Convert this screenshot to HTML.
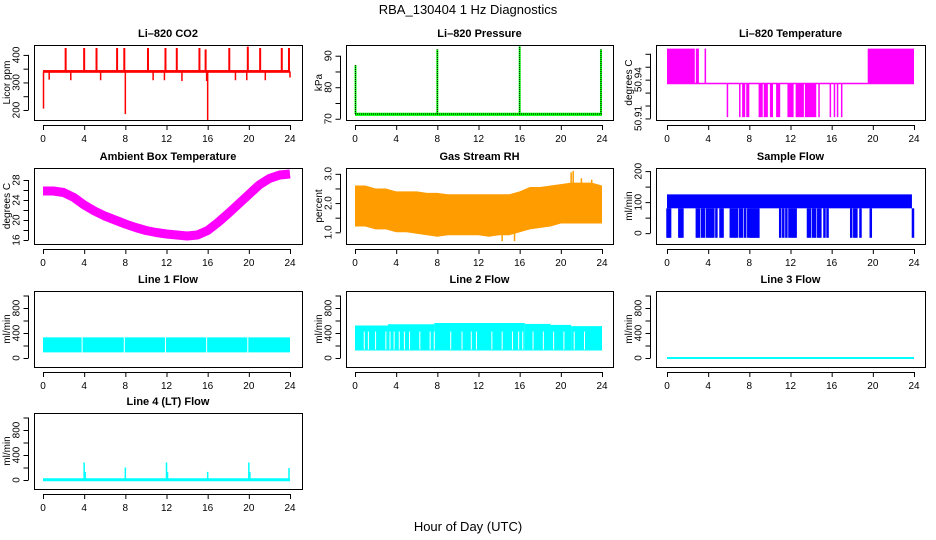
<!DOCTYPE html>
<html><head><meta charset="utf-8"><style>
html,body{margin:0;padding:0;background:#fff;}
svg{display:block;font-family:"Liberation Sans",sans-serif;}
</style></head><body>
<svg id="c" width="936" height="540" viewBox="0 0 936 540" xmlns="http://www.w3.org/2000/svg">
<text x="468" y="14" font-size="13" text-anchor="middle">RBA_130404  1 Hz Diagnostics</text>
<text x="468" y="531" font-size="13" text-anchor="middle">Hour of Day (UTC)</text>
</svg>
<script>
// ---- data arrays ----
const xTicks=[0,4,8,12,16,20,24];
const co2Base=340;
const co2SpikeHours=[2.2,4.0,5.2,7.2,7.9,10.2,11.9,13.0,15.2,15.8,18.1,19.9,21.1,23.2,23.9];
const co2SpikeVals=[425,425,425,425,425,425,425,425,425,420,425,430,425,425,425];
const co2DipHours=[0.05,8.0,16.0,0.6,2.7,5.6,10.7,11.8,13.5,15.9,18.7,19.8,21.6,24.0];
const co2DipVals=[205,185,163,310,308,308,308,308,305,305,308,308,308,318];
const presBase=71.5;
const presSpikeHours=[0.05,8.0,16.0,23.9];
const presSpikeVals=[87,92,93,92];
const tempHigh=[[0,2.7],[2.8,3.1],[3.65,3.8],[19.5,24]];
const tempLow=[[5.8,5.9],[7.0,7.1],[7.3,7.6],[7.7,8.0],[8.9,9.3],[9.4,9.8],[10.0,10.3],[10.6,11.0],[11.7,12.3],[12.5,13.3],[13.4,14.5],[14.7,14.8],[15.8,15.9],[16.2,16.3],[16.5,16.6],[16.9,17.0]];
const tempVals=[50.964,50.937,50.911];
const hours=[0,1,2,3,4,5,6,7,8,9,10,11,12,13,14,15,16,17,18,19,20,21,22,23,24];
const ambient=[25.8,25.8,25.5,24.5,23.0,21.8,20.8,20.0,19.2,18.5,17.9,17.5,17.2,17.0,16.8,17.0,17.9,19.5,21.3,23.2,25.1,27.0,28.3,29.0,29.2];
const rhUpper=[2.6,2.6,2.5,2.5,2.4,2.4,2.4,2.35,2.35,2.3,2.3,2.3,2.3,2.3,2.3,2.3,2.4,2.55,2.55,2.6,2.65,2.7,2.7,2.7,2.6];
const rhLower=[1.2,1.2,1.1,1.1,1.0,1.0,0.95,0.9,0.85,0.9,0.9,0.9,0.9,0.85,0.9,0.9,1.0,1.1,1.15,1.2,1.3,1.3,1.3,1.3,1.3];
const rhSpikeHours=[14.3,15.5,21.0,21.2,22.0,23.0];
const rhSpikeVals=[0.7,0.7,3.05,3.1,2.85,2.8];
const sampleUpper=125, sampleLower=80, sampleDrop=-15;
const sampleDropHours=[0.05,0.15,0.3,1.2,1.35,1.5,2.9,3.1,3.4,3.6,3.9,4.1,4.3,4.5,4.8,5.2,5.4,6.2,6.4,6.6,6.8,7.1,7.3,7.6,7.9,8.2,8.5,8.8,11.0,11.3,11.6,11.9,12.1,12.3,12.5,13.7,13.9,14.2,14.4,14.7,14.9,15.3,15.6,17.9,18.2,18.4,18.8,19.8,23.9];
const line1Upper=330, line1Lower=90;
const line1Gaps=[3.8,7.9,11.9,15.9,19.9];
const line2Steps=[0,3.2,7.7,16.5,19,21,24];
const line2StepVals=[520,540,560,545,530,510];
const line2Lower=120;
const line2Gaps=[0.9,1.3,2.0,3.0,3.4,3.8,4.3,4.8,5.3,6.3,7.3,7.7,9.3,10.4,11.3,11.8,13.3,14.3,15.3,15.9,16.3,17.3,18.3,19.3,20.3,21.3,22.3];
const line3Val=0;
const line4Base=5;
const line4SpikeHours=[4.0,4.1,8.0,12.0,12.1,16.0,20.0,20.1,23.9];
const line4SpikeVals=[280,130,200,280,130,130,280,130,190];

// ---- layout ----
const svg=document.getElementById('c');
const NS='http://www.w3.org/2000/svg';
function mk(tag,attrs,parent){const e=document.createElementNS(NS,tag);for(const k in attrs)e.setAttribute(k,attrs[k]);(parent||svg).appendChild(e);return e;}
const cols=[{x0:43,x1:290,bl:34,br:302},{x0:355,x1:602,bl:346,br:613},{x0:667,x1:914,bl:656,br:925}];
const rows=[{bt:45,bb:120},{bt:168,bb:244},{bt:291,bb:367},{bt:413,bb:489}];

function panel(name,c,r,title,ylab,ymin,ymax,yticks,ylabels,draw){
  const C=cols[c],R=rows[r];
  const g=mk('g',{});
  
  
  const sx=h=>C.x0+h/24*(C.x1-C.x0);
  const sy=v=>R.bb-(v-ymin)/(ymax-ymin)*(R.bb-R.bt);
  const cp=mk('clipPath',{id:'cp'+name},g);
  mk('rect',{x:C.bl,y:R.bt,width:C.br-C.bl,height:R.bb-R.bt},cp);
  const d=mk('g',{'clip-path':'url(#cp'+name+')'},g);
  
  
  draw(d,sx,sy);
  const box=mk('rect',{x:C.bl+0.5,y:R.bt+0.5,width:C.br-C.bl,height:R.bb-R.bt,fill:'none',stroke:'#000','stroke-width':1},g);
  
  
  const t=mk('text',{x:(C.bl+C.br)/2,y:R.bt-8,'font-size':11,'font-weight':'bold','text-anchor':'middle'},g);
  t.textContent=title;
  
  
  const xa=mk('g',{},g);
  
  
  mk('line',{x1:sx(0),x2:sx(24),y1:R.bb+5.5,y2:R.bb+5.5,stroke:'#000'},xa);
  xTicks.forEach(h=>{
    mk('line',{x1:sx(h)+0.5,x2:sx(h)+0.5,y1:R.bb+5,y2:R.bb+10,stroke:'#000'},xa);
    const tl=mk('text',{x:sx(h),y:R.bb+22,'font-size':10,'text-anchor':'middle'},xa);
    tl.textContent=h;
  });
  const ya=mk('g',{},g);
  
  
  const ax=C.bl-5.5;
  mk('line',{x1:ax,x2:ax,y1:sy(yticks[0]),y2:sy(yticks[yticks.length-1]),stroke:'#000'},ya);
  yticks.forEach(v=>{mk('line',{x1:ax-5,x2:ax,y1:sy(v)+0.5,y2:sy(v)+0.5,stroke:'#000'},ya);});
  ylabels.forEach(v=>{
    const y=sy(v);
    const tl=mk('text',{x:0,y:0,'font-size':10,'text-anchor':'middle',transform:`translate(${ax-9},${y}) rotate(-90)`},ya);
    tl.textContent=v;
  });
  const yl=mk('text',{x:0,y:0,'font-size':10,'text-anchor':'middle',transform:`translate(${C.bl-24},${(R.bt+R.bb)/2}) rotate(-90)`},g);
  yl.textContent=ylab;
  
  
}
function vline(p,x,y1,y2,col,w){mk('line',{x1:x,x2:x,y1:y1,y2:y2,stroke:col,'stroke-width':w||1},p);}

panel('co2',0,0,'Li\u2013820 CO2','Licor ppm',163.6,436,[200,250,300,350,400],[200,300,400],(d,sx,sy)=>{
  co2SpikeHours.forEach((h,i)=>vline(d,sx(h),sy(co2Base),sy(co2SpikeVals[i]),'#ff0000',2));
  co2DipHours.forEach((h,i)=>vline(d,sx(h),sy(co2Base),sy(co2DipVals[i]),'#ff0000',1.5));
  mk('rect',{x:sx(0),y:sy(co2Base+5),width:sx(24)-sx(0),height:sy(co2Base-5)-sy(co2Base+5),fill:'#ff0000'},d);
});
panel('pressure',1,0,'Li\u2013820 Pressure','kPa',69.6,93.4,[70,75,80,85,90],[70,80,90],(d,sx,sy)=>{
  mk('rect',{x:sx(0),y:sy(presBase+0.4),width:sx(24)-sx(0),height:sy(presBase-0.6)-sy(presBase+0.4),fill:'#00ff00'},d);
  mk('line',{x1:sx(0),x2:sx(24),y1:sy(presBase),y2:sy(presBase),stroke:'#000','stroke-dasharray':'1,1'},d);
  presSpikeHours.forEach((h,i)=>{vline(d,sx(h),sy(presBase),sy(presSpikeVals[i]),'#00ff00',2);
    mk('line',{x1:sx(h),x2:sx(h),y1:sy(presBase),y2:sy(presSpikeVals[i]),stroke:'#000','stroke-dasharray':'1,1'},d);});
});
panel('temperature',2,0,'Li\u2013820 Temperature','degrees C',50.9088,50.9668,[50.91,50.92,50.93,50.94,50.95,50.96],[50.91,50.94],(d,sx,sy)=>{
  mk('line',{x1:sx(0),x2:sx(24),y1:sy(tempVals[1]),y2:sy(tempVals[1]),stroke:'#ff00ff','stroke-width':1.5},d);
  tempHigh.forEach(iv=>mk('rect',{x:sx(iv[0]),y:sy(tempVals[0]),width:Math.max(1.5,sx(iv[1])-sx(iv[0])),height:sy(tempVals[1])-sy(tempVals[0]),fill:'#ff00ff'},d));
  tempLow.forEach(iv=>mk('rect',{x:sx(iv[0]),y:sy(tempVals[1]),width:Math.max(1.5,sx(iv[1])-sx(iv[0])),height:sy(tempVals[2])-sy(tempVals[1]),fill:'#ff00ff'},d));
});
panel('ambient',0,1,'Ambient Box Temperature','degrees C',15.2,30.4,[16,18,20,22,24,26,28],[16,20,24,28],(d,sx,sy)=>{
  mk('polyline',{points:hours.map((h,i)=>sx(h)+','+sy(ambient[i])).join(' '),fill:'none',stroke:'#ff00ff','stroke-width':9,'stroke-linejoin':'round'},d);
});
panel('rh',1,1,'Gas Stream RH','percent',0.6,3.2,[1.0,1.5,2.0,2.5,3.0],['1.0','2.0','3.0'],(d,sx,sy)=>{
  const pts=hours.map((h,i)=>sx(h)+','+sy(rhUpper[i])).concat(hours.slice().reverse().map((h,j)=>sx(h)+','+sy(rhLower[hours.length-1-j])));
  mk('polygon',{points:pts.join(' '),fill:'#ff9c00'},d);
  rhSpikeHours.forEach((h,i)=>vline(d,sx(h),sy(2),sy(rhSpikeVals[i]),'#ff9c00',1.5));
});
panel('sample-flow',2,1,'Sample Flow','ml/min',-35,210,[0,50,100,150,200],[0,100,200],(d,sx,sy)=>{
  sampleDropHours.forEach(h=>vline(d,sx(h),sy(sampleLower),sy(sampleDrop),'#0000ff',2.5));
  mk('rect',{x:sx(8.0),y:sy(sampleLower),width:sx(9.0)-sx(8.0),height:sy(sampleDrop)-sy(sampleLower),fill:'#0000ff'},d);
  mk('rect',{x:sx(0),y:sy(sampleUpper),width:sx(23.8)-sx(0),height:sy(sampleLower)-sy(sampleUpper),fill:'#0000ff'},d);
});
const flowTicks=[0,200,400,600,800,1000], flowLabels=[0,400,800];
panel('line1-flow',0,2,'Line 1 Flow','ml/min',-144,1072,flowTicks,flowLabels,(d,sx,sy)=>{
  mk('rect',{x:sx(0),y:sy(line1Upper),width:sx(24)-sx(0),height:sy(line1Lower)-sy(line1Upper),fill:'#00ffff'},d);
  line1Gaps.forEach(h=>vline(d,sx(h),sy(line1Upper)-1,sy(line1Lower)+1,'#ffffff',1));
});
panel('line2-flow',1,2,'Line 2 Flow','ml/min',-144,1072,flowTicks,flowLabels,(d,sx,sy)=>{
  line2StepVals.forEach((v,i)=>mk('rect',{x:sx(line2Steps[i]),y:sy(v),width:sx(line2Steps[i+1])-sx(line2Steps[i]),height:sy(line2Lower)-sy(v),fill:'#00ffff'},d));
  line2Gaps.forEach(h=>vline(d,sx(h),sy(line2StepVals[0])+6,sy(line2Lower)-1,'#ffffff',1));
});
panel('line3-flow',2,2,'Line 3 Flow','ml/min',-144,1072,flowTicks,flowLabels,(d,sx,sy)=>{
  mk('line',{x1:sx(0),x2:sx(24),y1:sy(line3Val),y2:sy(line3Val),stroke:'#00ffff','stroke-width':2},d);
});
panel('line4-flow',0,3,'Line 4 (LT) Flow','ml/min',-144,1072,flowTicks,flowLabels,(d,sx,sy)=>{
  mk('line',{x1:sx(0),x2:sx(24),y1:sy(line4Base),y2:sy(line4Base),stroke:'#00ffff','stroke-width':3},d);
  line4SpikeHours.forEach((h,i)=>vline(d,sx(h),sy(line4Base),sy(line4SpikeVals[i]),'#00ffff',1.5));
});
</script>
</body></html>
